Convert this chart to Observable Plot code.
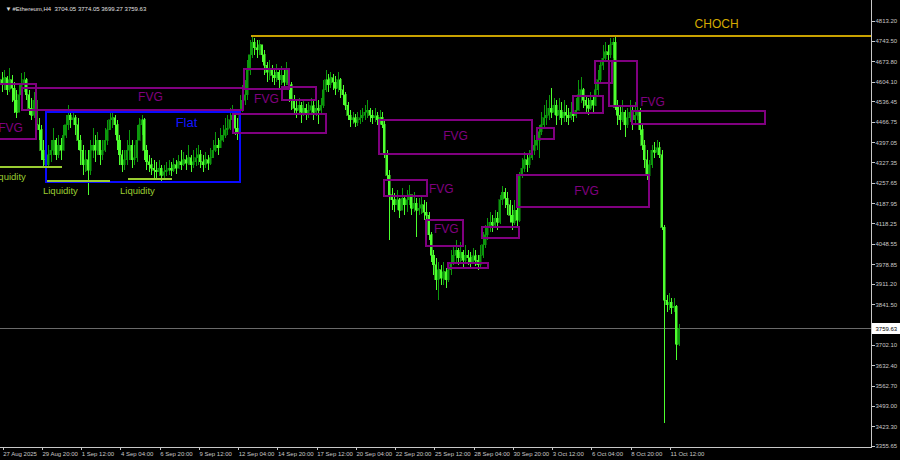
<!DOCTYPE html>
<html><head><meta charset="utf-8">
<script src="https://cdn.jsdelivr.net/npm/d3@7"></script>
<script src="https://cdn.jsdelivr.net/npm/@observablehq/plot@0.6"></script>
<style>html,body{margin:0;padding:0;background:#000;overflow:hidden}svg{display:block}</style>
</head><body><div id="chart"></div>
<script>
const symbol = "#Ethereum,H4";
const firstOpen = 4610;
const closes = [
4593,4617,4576,4610,4582,4541,4500,4559,4593,4610,
4559,4514,4490,4541,4456,4439,4370,4336,4319,4353,
4370,4404,4353,4387,4370,4421,4456,4490,4473,4480,
4456,4404,4370,4319,4336,4301,4370,4387,4370,4404,
4353,4370,4404,4439,4473,4480,4456,4404,4353,4319,
4336,4370,4387,4336,4343,4404,4456,4473,4370,4329,
4319,4308,4301,4295,4308,4284,4295,4301,4308,4301,
4319,4308,4329,4319,4336,4325,4343,4319,4329,4343,
4353,4329,4319,4336,4325,4343,4370,4387,4377,4404,
4421,4439,4445,4473,4490,4445,4432,4507,4541,4559,
4644,4696,4740,4720,4713,4730,4696,4661,4637,4644,
4627,4617,4637,4610,4627,4603,4644,4593,4541,4514,
4507,4524,4500,4514,4493,4507,4521,4500,4514,4507,
4524,4576,4610,4593,4617,4603,4582,4610,4576,4559,
4524,4490,4473,4480,4466,4473,4480,4490,4500,4507,
4490,4480,4487,4473,4483,4456,4353,4284,4216,4199,
4182,4199,4164,4205,4182,4199,4216,4171,4188,4164,
4171,4182,4157,4147,4079,4010,3976,3925,3959,3931,
3952,3925,3959,3986,4010,4027,4000,4020,3993,4010,
4000,3986,4007,3993,3976,4010,4045,4079,4103,4123,
4113,4137,4123,4199,4226,4205,4182,4147,4123,4164,
4130,4284,4308,4336,4319,4343,4370,4387,4404,4432,
4456,4480,4490,4514,4500,4524,4490,4507,4480,4500,
4490,4480,4500,4487,4507,4559,4576,4541,4524,4514,
4541,4524,4576,4610,4661,4685,4706,4696,4730,4740,
4517,4490,4473,4500,4456,4480,4500,4473,4490,4507,
4439,4387,4336,4284,4319,4370,4363,4377,4353,4106,
3856,3839,3849,3829,3835,3704.05,3759.63];
const highs = [
4637,4644,4624,4651,4627,4603,4576,4593,4634,4637,
4617,4576,4548,4569,4548,4480,4456,4404,4370,4387,
4404,4445,4411,4421,4411,4456,4490,4524,4507,4500,
4490,4480,4421,4387,4370,4370,4404,4445,4421,4432,
4404,4404,4445,4473,4500,4497,4490,4473,4421,4370,
4370,4404,4439,4404,4387,4456,4480,4490,4480,4387,
4353,4343,4336,4329,4336,4319,4319,4329,4336,4329,
4343,4336,4353,4370,4363,4353,4387,4353,4370,4377,
4387,4370,4353,4363,4353,4377,4404,4432,4411,4445,
4456,4480,4490,4514,4524,4500,4480,4559,4593,4610,
4678,4747,4764,4754,4747,4747,4730,4713,4672,4678,
4661,4651,4665,4651,4658,4644,4672,4651,4603,4559,
4541,4548,4535,4541,4528,4535,4548,4541,4545,4541,
4548,4610,4644,4631,4637,4631,4624,4637,4617,4593,
4569,4535,4507,4500,4493,4500,4507,4514,4524,4541,
4514,4507,4514,4500,4507,4500,4473,4370,4301,4240,
4223,4233,4205,4240,4216,4233,4250,4216,4226,4205,
4205,4212,4199,4192,4157,4089,4027,4000,3986,3976,
3986,3966,3986,4027,4045,4062,4034,4055,4027,4045,
4027,4020,4034,4027,4010,4045,4089,4113,4137,4157,
4147,4164,4157,4216,4247,4240,4226,4199,4182,4199,
4205,4295,4343,4363,4353,4370,4404,4421,4439,4456,
4500,4524,4541,4559,4582,4548,4541,4548,4535,4541,
4524,4514,4535,4524,4548,4610,4620,4582,4559,4548,
4569,4559,4603,4644,4678,4730,4740,4730,4754,4754,
4757,4541,4524,4541,4507,4514,4541,4524,4535,4541,
4514,4456,4404,4370,4336,4387,4397,4404,4397,4370,
4113,3873,3880,3863,3863,3839,3774.05];
const lows = [
4569,4576,4559,4569,4535,4497,4480,4514,4555,4569,
4541,4490,4473,4480,4439,4404,4336,4308,4295,4308,
4329,4353,4336,4343,4336,4370,4411,4439,4445,4456,
4421,4370,4319,4284,4295,4216,4284,4343,4329,4353,
4319,4336,4363,4387,4439,4445,4421,4370,4319,4295,
4301,4319,4336,4308,4319,4329,4404,4421,4336,4301,
4295,4284,4274,4274,4281,4260,4274,4281,4284,4281,
4295,4288,4308,4301,4315,4301,4319,4295,4308,4315,
4319,4308,4295,4308,4301,4319,4343,4363,4353,4377,
4397,4411,4421,4439,4456,4421,4404,4428,4500,4524,
4541,4627,4685,4696,4685,4696,4672,4627,4603,4610,
4603,4593,4603,4582,4593,4576,4593,4535,4507,4490,
4480,4493,4463,4487,4473,4480,4490,4473,4487,4459,
4497,4514,4569,4569,4582,4576,4559,4569,4548,4524,
4507,4473,4449,4459,4449,4452,4459,4466,4473,4480,
4466,4459,4466,4456,4459,4445,4343,4267,4062,4164,
4157,4164,4137,4164,4147,4157,4182,4147,4157,4072,
4147,4151,4130,4123,4062,3986,3942,3890,3856,3907,
3907,3897,3918,3942,3976,3986,3976,3986,3966,3979,
3976,3966,3979,3973,3959,3966,4000,4034,4062,4089,
4089,4103,4096,4116,4182,4171,4147,4123,4096,4113,
4103,4123,4274,4295,4295,4308,4336,4353,4370,4343,
4421,4445,4456,4473,4480,4490,4456,4473,4456,4466,
4466,4456,4473,4466,4480,4507,4531,4514,4500,4490,
4507,4500,4521,4559,4603,4644,4678,4672,4685,4685,
4507,4456,4439,4466,4415,4445,4466,4439,4456,4473,
4421,4370,4308,4267,4274,4308,4343,4353,4343,4096,
3434,3815,3822,3808,3815,3650,3699.27];
const lastOpen = 3704.05;

// time axis labels (every 16 bars, H4)
const xTickBars = [0,16,32,48,64,80,96,112,128,144,160,176,192,208,224,240,256,272];
const xTickLabels = ["27 Aug 2025","29 Aug 20:00","1 Sep 12:00","4 Sep 04:00","6 Sep 20:00","9 Sep 12:00","12 Sep 04:00","14 Sep 20:00","17 Sep 12:00","20 Sep 04:00","22 Sep 20:00","25 Sep 12:00","28 Sep 04:00","30 Sep 20:00","3 Oct 12:00","6 Oct 04:00","8 Oct 20:00","11 Oct 12:00"];
// price labels (3771.80 is hidden behind the current-price label in the reference)
const yTickValues = [4813.20,4743.50,4673.80,4604.10,4536.45,4466.75,4397.05,4327.35,4257.65,4187.95,4118.25,4048.55,3978.85,3911.20,3841.50,3702.10,3632.40,3562.70,3493.00,3423.30,3355.65];

// FVG zones (bar index span, price top/bottom)
const fvgStart = [-3,8.3,98.8,114.3,94.3,153.8,155.8,173,181.9,195.8,210.1,218.2,232.9,241.9,247.6,256.9];
const fvgEnd   = [14,98.4,117.1,128.1,132.2,216.2,173.4,188,198.2,210.9,263.9,225.1,245.1,248.8,259,311.2];
const fvgTop   = [4596,4583,4648,4586,4493,4473,4267,4130,3983,4106,4284,4446,4555,4675,4675,4504];
const fvgBottom= [4408,4507,4579,4541,4428,4356,4212,4041,3966,4069,4175,4408,4497,4600,4521,4459];
const fvgLabelBar   = [3.4,60.4,107.7,184.8,179.0,181.0,238.2,265.1];
const fvgLabelPrice = [4445,4552,4545,4418,4237,4101,4230,4535];

// Flat range
const flatStart = 18.0, flatEnd = 97.1, flatTop = 4500, flatBottom = 4260;
const flatLabelBar = 75.1, flatLabelPrice = 4466;

// Liquidity levels
const liqStart = [-3,12.3,18.4,51.5];
const liqEnd   = [12.3,24.6,44.1,69.4];
const liqPrice = [4315,4312,4264,4274];
const liqLabelBar = [2.5,23.7,55.1];
const liqLabelPrice = [4280,4233,4233];

// CHOCH level
const chochPrice = 4764, chochStart = 101.6, chochEnd = 354.4;
const chochLabelBar = 291.2, chochLabelPrice = 4802;

const bullColor = "#0c980c", bearColor = "#4dff2e";
const purple = "#800080";
const font = "Liberation Sans, Arial, sans-serif";

const bars = closes.map((c, i) => {
  const o = i === closes.length - 1 ? lastOpen : (i === 0 ? firstOpen : closes[i - 1]);
  return {i, open: o, close: c, high: Math.max(highs[i], o, c), low: Math.min(lows[i], o, c), up: c >= o};
});
const last = bars[bars.length - 1];
const fvg = fvgStart.map((s, k) => ({x1: s, x2: fvgEnd[k], y1: fvgTop[k], y2: fvgBottom[k]}));
const fvgLabels = fvgLabelBar.map((b, k) => ({x: b, y: fvgLabelPrice[k]}));
const liq = liqStart.map((s, k) => ({x1: s, x2: liqEnd[k], y: liqPrice[k]}));
const liqLabels = liqLabelBar.map((b, k) => ({x: b, y: liqLabelPrice[k]}));
const labelMap = new Map(xTickBars.map((b, k) => [b, xTickLabels[k]]));
const header = `${symbol}  ${last.open.toFixed(2)} ${last.high.toFixed(2)} ${last.low.toFixed(2)} ${last.close.toFixed(2)}`;

const up = bars.filter(d => d.up), down = bars.filter(d => !d.up);
const bw = 0.42;

const chart = Plot.plot({
  width: 900, height: 460,
  marginLeft: -2, marginTop: -2, marginRight: 29, marginBottom: 13,
  style: {background: "#000", fontFamily: font, shapeRendering: "crispEdges"},
  x: {type: "linear", domain: [0, 276], range: [1.75, 678.8]},
  y: {type: "linear", domain: [4813.2, 3355.65], range: [20.7, 446]},
  marks: [
    Plot.frame({stroke: "#c8c8c8"}),
    Plot.ruleY([last.close], {stroke: "#6a6a6a", strokeWidth: 1}),
    // candles
    Plot.ruleX(up, {x: "i", y1: "low", y2: "high", stroke: bullColor, strokeWidth: 1}),
    Plot.ruleX(down, {x: "i", y1: "low", y2: "high", stroke: bearColor, strokeWidth: 1}),
    Plot.rect(up, {x1: d => d.i - bw, x2: d => d.i + bw, y1: "open", y2: "close", fill: bullColor, stroke: bullColor, strokeWidth: 0.5}),
    Plot.rect(down, {x1: d => d.i - bw, x2: d => d.i + bw, y1: "open", y2: "close", fill: bearColor, stroke: bearColor, strokeWidth: 0.5}),
    // flat
    Plot.rect([0], {x1: () => flatStart, x2: () => flatEnd, y1: () => flatTop, y2: () => flatBottom, fill: "none", stroke: "#0a0aff", strokeWidth: 2}),
    Plot.text(["Flat"], {x: () => flatLabelBar, y: () => flatLabelPrice, text: d => d, fill: "#1414ff", fontSize: 13, fontFamily: font}),
    // liquidity
    Plot.ruleY(liq, {x1: "x1", x2: "x2", y: "y", stroke: "#9acd32", strokeWidth: 2}),
    Plot.text(liqLabels, {x: "x", y: "y", text: () => "Liquidity", fill: "#9acd32", fontSize: 9.5, fontFamily: font}),
    // FVG
    Plot.rect(fvg, {x1: "x1", x2: "x2", y1: "y1", y2: "y2", fill: "none", stroke: purple, strokeWidth: 2}),
    Plot.text(fvgLabels, {x: "x", y: "y", text: () => "FVG", fill: purple, fontSize: 12, fontFamily: font}),
    // CHOCH
    Plot.ruleY([chochPrice], {x1: () => chochStart, x2: () => chochEnd, stroke: "#c9a100", strokeWidth: 2}),
    Plot.text(["CHOCH"], {x: () => chochLabelBar, y: () => chochLabelPrice, text: d => d, fill: "#d4aa00", fontSize: 12, fontFamily: font}),
    // axes
    Plot.axisY(yTickValues, {anchor: "right", tickSize: 3, tickPadding: 1, tickFormat: d => d.toFixed(2), fontSize: 6, color: "#c8c8c8", label: null, fontFamily: font}),
    Plot.axisX(xTickBars, {anchor: "bottom", tickSize: 3, tickPadding: 1, tickFormat: d => labelMap.get(d), textAnchor: "start", dx: 1, fontSize: 6, color: "#c8c8c8", label: null, fontFamily: font}),
    // current price label
    Plot.ruleY([last.close], {x1: () => 354.8, x2: () => 366.5, stroke: "#ffffff", strokeWidth: 11}),
    Plot.text([last.close], {y: d => d, frameAnchor: "right", dx: 4, textAnchor: "start", text: d => d.toFixed(2), fill: "#000", fontSize: 6, fontFamily: font}),
    // header
    Plot.text(["\u25BC"], {frameAnchor: "top-left", dx: 7, dy: 8, text: d => d, fill: "#e0e0e0", fontSize: 6}),
    Plot.text([header], {frameAnchor: "top-left", dx: 14, dy: 8, text: d => d, textAnchor: "start", fill: "#e0e0e0", fontSize: 6, fontFamily: font})
  ]
});
document.getElementById("chart").appendChild(chart);
</script></body></html>
